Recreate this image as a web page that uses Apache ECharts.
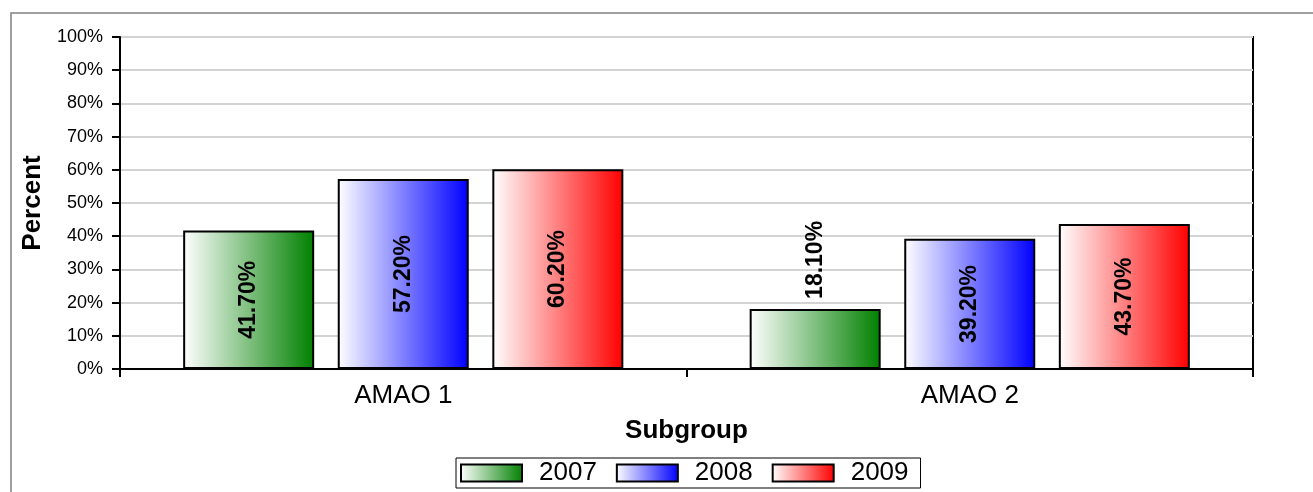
<!DOCTYPE html>
<html>
<head>
<meta charset="utf-8">
<script src="https://cdn.jsdelivr.net/npm/echarts@6/dist/echarts.min.js"></script>
<style>
html,body{margin:0;padding:0;background:#fff;}
#chart{width:1313px;height:492px;}
</style>
</head>
<body>
<div id="chart"></div>
<script>
const categories = ['AMAO 1', 'AMAO 2'];
const seriesNames = ['2007', '2008', '2009'];
const values2007 = [41.7, 18.1];
const values2008 = [57.2, 39.2];
const values2009 = [60.2, 43.7];
const yTicks = [0, 10, 20, 30, 40, 50, 60, 70, 80, 90, 100];

const FONT = 'Arial, "Liberation Sans", sans-serif';
const colors = ['#008000', '#0000ff', '#ff0000'];

function grad(c) {
  return new echarts.graphic.LinearGradient(0, 0, 1, 0, [
    { offset: 0, color: '#ffffff' },
    { offset: 1, color: c }
  ]);
}

const labelBase = {
  show: true,
  position: 'inside',
  rotate: 90,
  fontSize: 23,
  fontWeight: 'bold',
  fontFamily: FONT,
  color: '#000',
  formatter: p => p.value.toFixed(2) + '%'
};

function makeData(vals) {
  return vals.map(v => {
    if (v < 25) {
      return { value: v, label: { position: 'top', align: 'left', verticalAlign: 'middle', distance: 10 } };
    }
    return { value: v };
  });
}

const allVals = [values2007, values2008, values2009];

const chart = echarts.init(document.getElementById('chart'), null, { renderer: 'canvas' });
chart.setOption({
  animation: false,
  backgroundColor: '#fff',
  textStyle: { fontFamily: FONT },
  graphic: [{
    type: 'rect',
    shape: { x: 11, y: 13, width: 1400, height: 600 },
    style: { fill: 'none', stroke: '#808080', lineWidth: 1.5 },
    silent: true
  }],
  grid: {
    left: 120, right: 60, top: 37, bottom: 123,
    show: true, borderColor: '#000', borderWidth: 2, backgroundColor: 'transparent'
  },
  legend: {
    data: seriesNames,
    left: 456, top: 458,
    icon: 'rect',
    itemWidth: 61, itemHeight: 17,
    itemGap: 19,
    padding: [2, 12, 2, 4],
    borderColor: '#000', borderWidth: 1,
    textStyle: { fontSize: 26, color: '#000', fontFamily: FONT, padding: [0, 0, 0, 12], lineHeight: 26 }
  },
  xAxis: {
    type: 'category',
    data: categories,
    name: 'Subgroup',
    nameLocation: 'middle',
    nameGap: 49,
    nameTextStyle: { fontSize: 26, fontWeight: 'bold', color: '#000', fontFamily: FONT },
    axisLine: { lineStyle: { color: '#000', width: 2 } },
    axisTick: { show: true, length: 8, lineStyle: { color: '#000', width: 2 } },
    axisLabel: { fontSize: 26, color: '#000', margin: 14, fontFamily: FONT },
    splitLine: { show: false }
  },
  yAxis: {
    type: 'value',
    min: yTicks[0], max: yTicks[yTicks.length - 1], interval: 10,
    name: 'Percent',
    nameLocation: 'middle',
    nameRotate: 90,
    nameGap: 70,
    nameTextStyle: { fontSize: 26, fontWeight: 'bold', color: '#000', fontFamily: FONT },
    axisLine: { show: true, lineStyle: { color: '#000', width: 2 } },
    axisTick: { show: true, length: 8, lineStyle: { color: '#000', width: 2 } },
    axisLabel: { fontSize: 18, color: '#000', margin: 17, fontFamily: FONT, formatter: '{value}%' },
    splitLine: { show: true, lineStyle: { color: '#d3d3d3', width: 2 } }
  },
  series: seriesNames.map((n, i) => ({
    name: n,
    type: 'bar',
    data: makeData(allVals[i]),
    barWidth: 131,
    barGap: '18%',
    itemStyle: { color: grad(colors[i]), borderColor: '#000', borderWidth: 2 },
    label: labelBase
  }))
});
</script>
</body>
</html>
